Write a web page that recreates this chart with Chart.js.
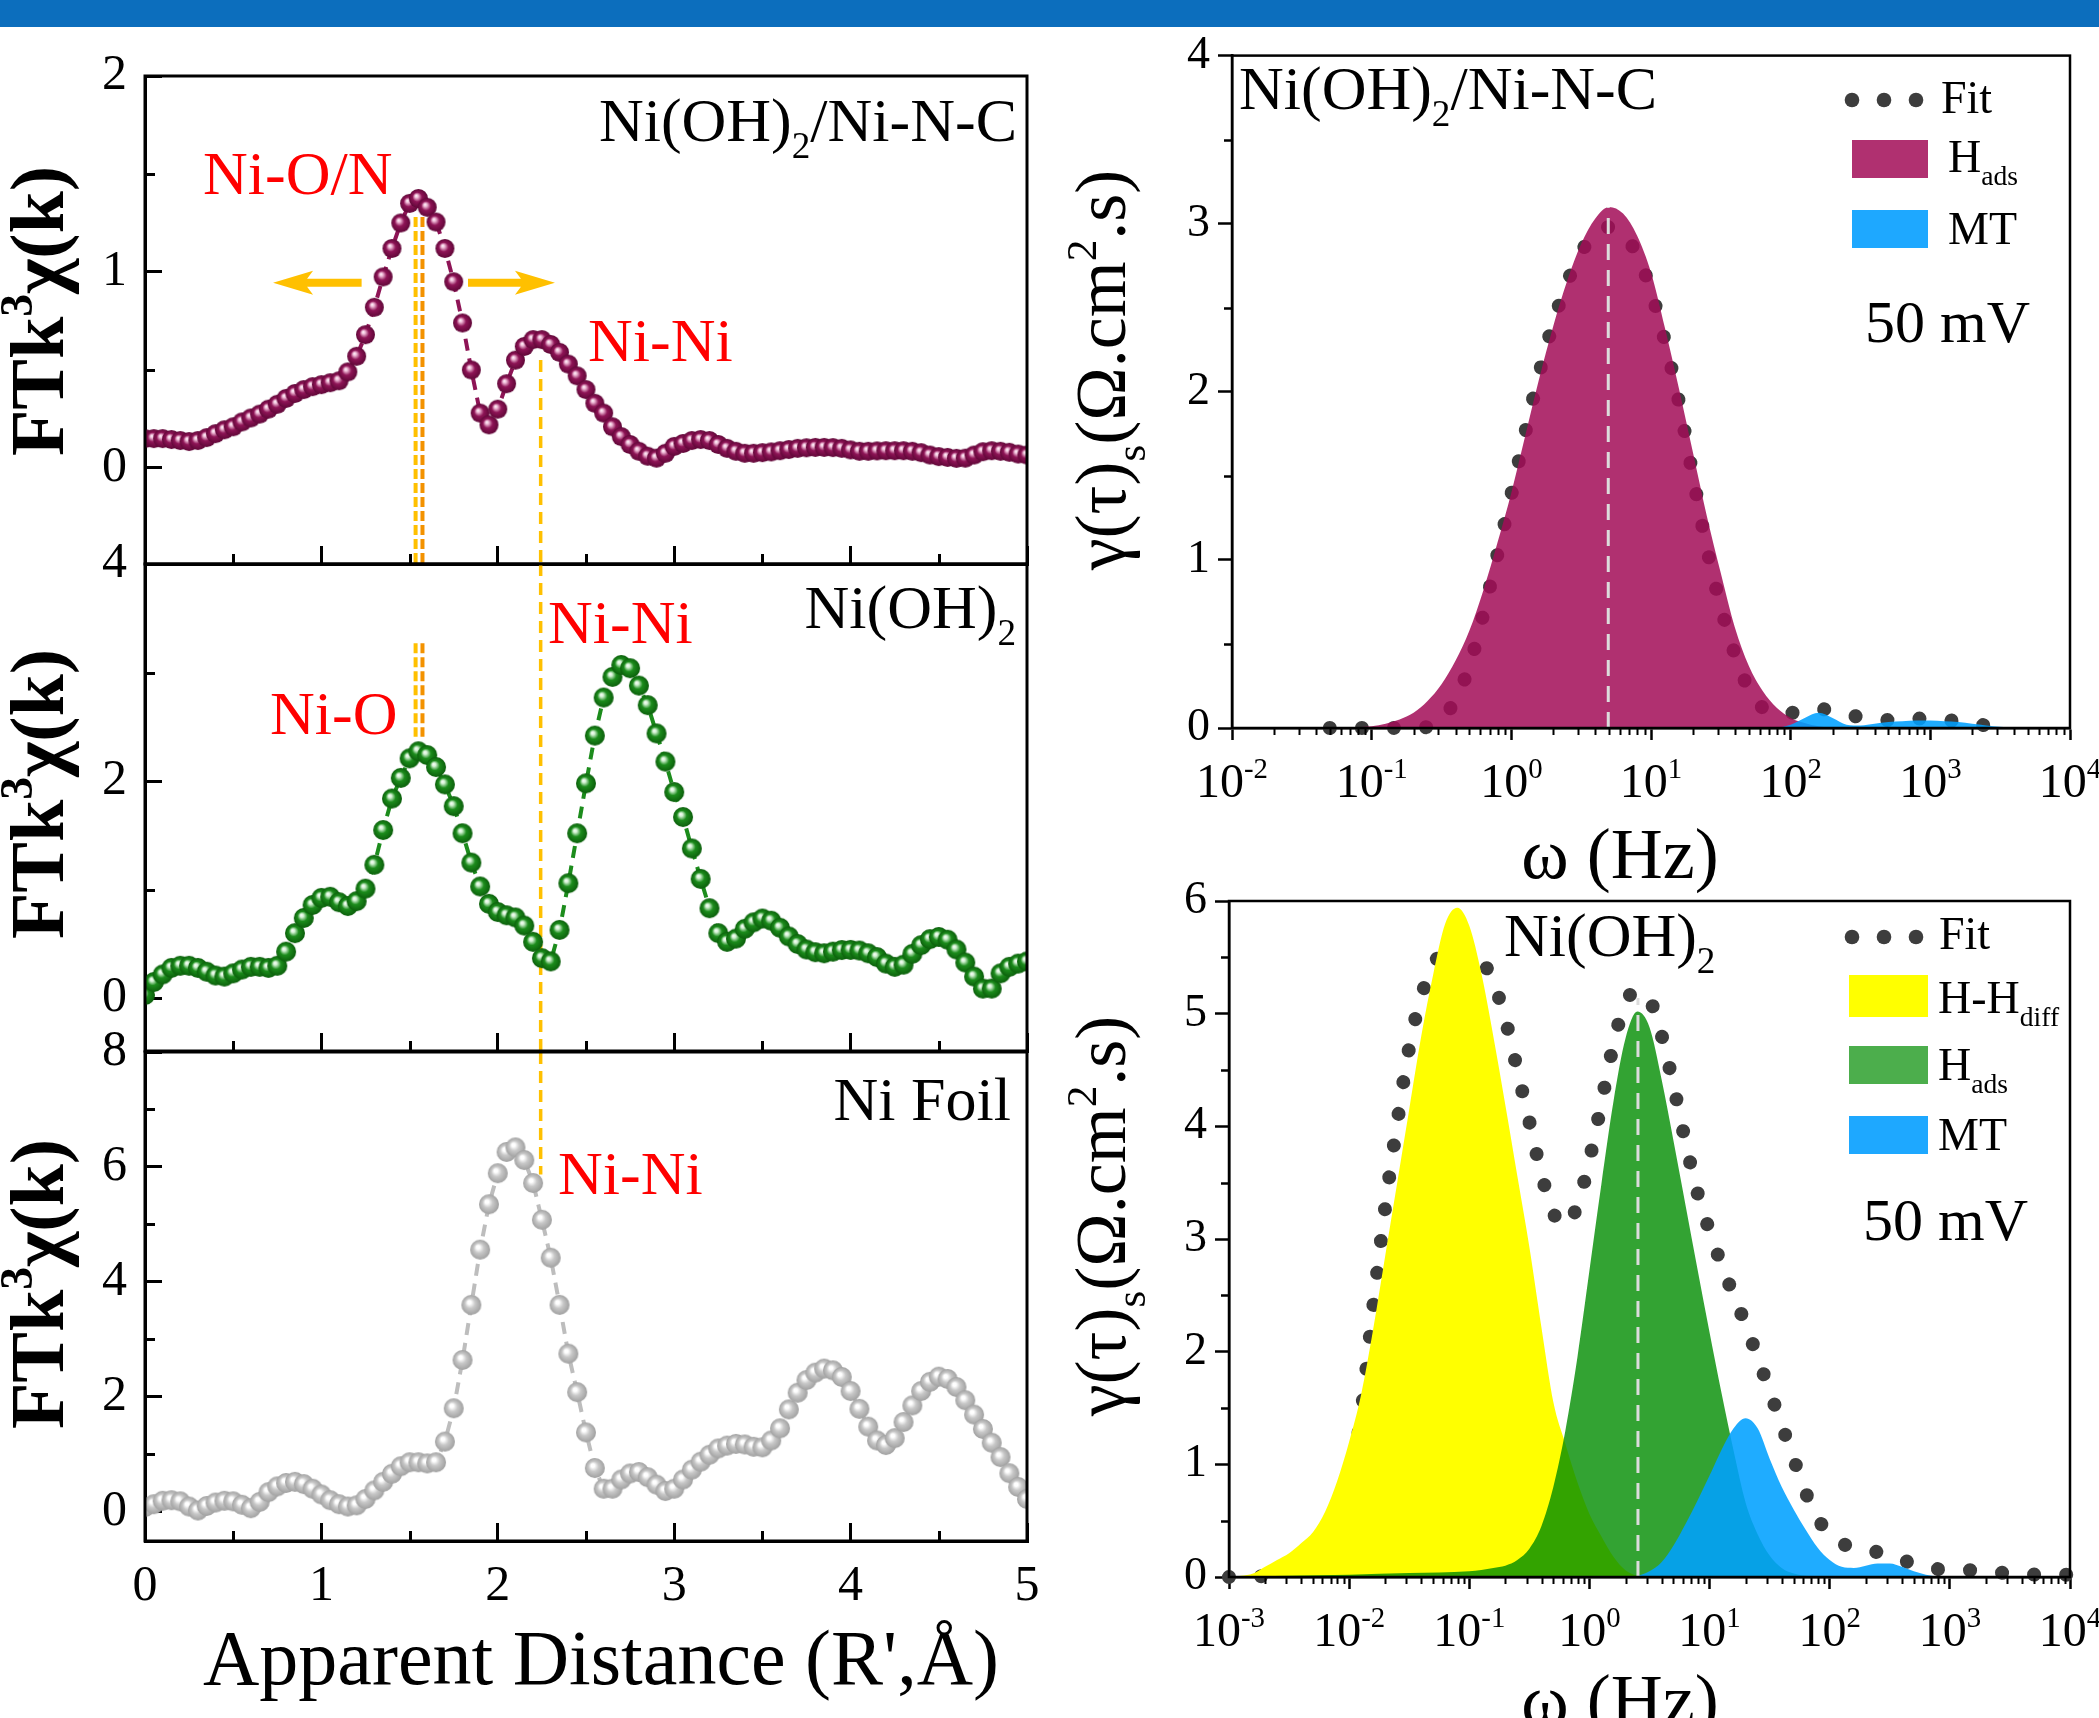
<!DOCTYPE html>
<html>
<head>
<meta charset="utf-8">
<title>FT-EXAFS and DRT</title>
<script src="https://cdn.jsdelivr.net/npm/chart.js@4.4.1/dist/chart.umd.min.js"></script>
<style>
  html, body { margin: 0; padding: 0; background: #fff; }
  #fig { position: relative; width: 2099px; height: 1718px; overflow: hidden; background: #fff; }
  #bar { position: absolute; left: 0; top: 0; width: 2099px; height: 27px; background: #0c6ebd; }
  canvas { position: absolute; }
</style>
</head>
<body>
<div id="fig"><div id="bar"></div></div>
<script>
// ---------- EXAFS data (R', Å) ----------
const rDist = [0,0.05,0.1,0.15,0.2,0.25,0.3,0.35,0.4,0.45,0.5,0.55,0.6,0.65,0.7,0.75,0.8,0.85,0.9,0.95,
  1,1.05,1.1,1.15,1.2,1.25,1.3,1.35,1.4,1.45,1.5,1.55,1.6,1.65,1.7,1.75,1.8,1.85,1.9,1.95,
  2,2.05,2.1,2.15,2.2,2.25,2.3,2.35,2.4,2.45,2.5,2.55,2.6,2.65,2.7,2.75,2.8,2.85,2.9,2.95,
  3,3.05,3.1,3.15,3.2,3.25,3.3,3.35,3.4,3.45,3.5,3.55,3.6,3.65,3.7,3.75,3.8,3.85,3.9,3.95,
  4,4.05,4.1,4.15,4.2,4.25,4.3,4.35,4.4,4.45,4.5,4.55,4.6,4.65,4.7,4.75,4.8,4.85,4.9,4.95,5];

const ftNiNC = [0.15,0.15,0.15,0.145,0.14,0.135,0.14,0.155,0.175,0.195,
  0.21,0.235,0.255,0.275,0.30,0.325,0.355,0.38,0.40,0.415,
  0.425,0.435,0.445,0.49,0.57,0.68,0.82,0.975,1.12,1.25,
  1.35,1.375,1.33,1.255,1.12,0.95,0.74,0.50,0.28,0.22,
  0.30,0.43,0.55,0.62,0.655,0.655,0.63,0.59,0.53,0.47,
  0.40,0.33,0.28,0.21,0.16,0.12,0.085,0.06,0.05,0.075,
  0.11,0.125,0.14,0.145,0.14,0.12,0.10,0.085,0.075,0.075,
  0.078,0.082,0.088,0.094,0.10,0.103,0.105,0.105,0.104,0.10,
  0.092,0.085,0.085,0.087,0.088,0.088,0.088,0.085,0.078,0.066,
  0.058,0.054,0.049,0.05,0.066,0.083,0.088,0.085,0.08,0.071,0.066];

const ftNiOH = [0.03,0.15,0.22,0.28,0.30,0.30,0.28,0.245,0.21,0.20,
  0.23,0.265,0.29,0.29,0.28,0.30,0.43,0.60,0.74,0.86,
  0.925,0.935,0.885,0.85,0.895,1.01,1.23,1.55,1.84,2.03,
  2.21,2.275,2.24,2.13,1.97,1.77,1.52,1.25,1.03,0.87,
  0.795,0.765,0.745,0.67,0.52,0.37,0.34,0.63,1.06,1.52,
  1.98,2.42,2.77,2.96,3.07,3.04,2.88,2.70,2.44,2.18,
  1.90,1.67,1.38,1.10,0.83,0.60,0.52,0.55,0.64,0.70,
  0.735,0.715,0.65,0.57,0.50,0.45,0.425,0.415,0.43,0.445,
  0.446,0.44,0.415,0.38,0.32,0.29,0.31,0.41,0.49,0.545,
  0.565,0.54,0.45,0.33,0.20,0.09,0.09,0.23,0.29,0.32,0.34];

const ftNiFoil = [0.08,0.13,0.19,0.20,0.18,0.09,0.02,0.10,0.16,0.19,
  0.18,0.12,0.06,0.17,0.34,0.44,0.50,0.52,0.48,0.40,
  0.30,0.20,0.13,0.09,0.11,0.22,0.37,0.52,0.66,0.79,
  0.86,0.86,0.84,0.86,1.22,1.80,2.64,3.60,4.56,5.35,
  5.89,6.26,6.34,6.12,5.72,5.08,4.42,3.60,2.75,2.08,
  1.38,0.76,0.40,0.40,0.56,0.665,0.69,0.60,0.47,0.36,
  0.40,0.56,0.73,0.87,0.99,1.10,1.15,1.18,1.17,1.13,
  1.12,1.24,1.45,1.78,2.07,2.29,2.42,2.49,2.46,2.345,
  2.10,1.79,1.48,1.24,1.16,1.28,1.56,1.85,2.10,2.26,
  2.35,2.31,2.17,1.94,1.69,1.44,1.20,0.95,0.67,0.43,0.22];

// ---------- DRT data, x given as log10(omega / Hz) ----------
const trHadsLogW = [-1.2,-1.1,-1.0,-0.9,-0.8,-0.7,-0.6,-0.5,-0.4,-0.3,-0.2,-0.1,0,0.1,0.2,0.3,0.4,0.5,0.6,0.7,
  0.8,0.9,1.0,1.1,1.2,1.3,1.4,1.5,1.6,1.7,1.8,1.9,2.0,2.1,2.2,2.3];
const trHads = [0,0.004,0.01,0.025,0.05,0.09,0.16,0.26,0.40,0.58,0.82,1.10,1.40,1.74,2.08,2.39,2.66,2.88,3.03,3.10,
  3.06,2.93,2.71,2.38,2.02,1.64,1.26,0.92,0.60,0.37,0.22,0.12,0.06,0.03,0.01,0];
const trMtLogW = [1.9,2.0,2.1,2.2,2.3,2.4,2.5,2.6,2.7,2.8,2.9,3.0,3.1,3.2,3.3,3.4,3.5,3.6,3.7];
const trMt = [0,0.02,0.06,0.09,0.06,0.02,0.015,0.025,0.035,0.04,0.045,0.045,0.04,0.035,0.025,0.015,0.008,0.002,0];
const trFitLogW = [-1.3,-1.0,-0.7,-0.6,-0.5,-0.4,-0.3,-0.2,-0.1,0,0.1,0.2,0.3,0.4,0.5,0.6,0.7,0.8,0.9,1.0,
  1.1,1.2,1.3,1.4,1.5,1.6,1.7,1.8,1.9,2.0,2.1,2.2,2.3,2.4,2.5,2.6,2.7,2.8,2.9,3.0,3.1,3.2,3.3,3.4,3.5,3.6];
const trFit = [0,0,0.002,0.006,0.05,0.17,0.37,0.68,1.03,1.39,1.76,2.11,2.41,2.65,2.83,2.94,2.98,2.93,2.82,2.60,
  2.30,1.94,1.50,1.07,0.72,0.44,0.23,0.12,0.09,0.09,0.10,0.115,0.10,0.08,0.065,0.052,0.047,0.05,0.056,0.055,
  0.048,0.04,0.028,0.015,0.006,0];

const brDiffLogW = [-3.0,-2.9,-2.8,-2.7,-2.6,-2.5,-2.4,-2.3,-2.2,-2.1,-2.0,-1.9,-1.8,-1.7,-1.6,-1.5,-1.4,-1.3,-1.2,-1.1,
  -1.0,-0.9,-0.8,-0.7,-0.6,-0.5,-0.4,-0.3,-0.2,-0.1,0,0.1,0.2,0.3,0.4,0.5];
const brDiff = [0,0.01,0.03,0.09,0.15,0.21,0.30,0.40,0.58,0.85,1.20,1.62,2.20,2.85,3.50,4.15,4.80,5.35,5.80,5.94,
  5.78,5.36,4.80,4.19,3.56,2.93,2.22,1.55,1.18,0.84,0.56,0.36,0.18,0.06,0.01,0];
const brAdsLogW = [-3.0,-2.5,-2.0,-1.5,-1.0,-0.8,-0.7,-0.6,-0.5,-0.4,-0.3,-0.2,-0.1,0,0.1,0.2,0.3,0.4,0.5,0.6,
  0.7,0.8,0.9,1.0,1.1,1.2,1.3,1.4,1.5,1.6,1.7,1.8,2.0];
const brAds = [0,0.01,0.02,0.035,0.05,0.08,0.10,0.15,0.25,0.45,0.80,1.30,1.95,2.72,3.49,4.22,4.78,5.02,4.88,4.42,
  3.87,3.30,2.73,2.17,1.63,1.12,0.66,0.38,0.19,0.08,0.03,0.01,0];
const brMtLogW = [0.3,0.4,0.5,0.6,0.7,0.8,0.9,1.0,1.1,1.2,1.3,1.4,1.5,1.6,1.7,1.8,1.9,2.0,2.1,2.2,
  2.3,2.4,2.5,2.6,2.7,2.8,2.9,3.0];
const brMt = [0,0.01,0.05,0.13,0.28,0.47,0.68,0.90,1.13,1.32,1.41,1.32,1.05,0.80,0.60,0.42,0.26,0.15,0.09,0.08,
  0.10,0.12,0.12,0.09,0.05,0.02,0.005,0];
const brFitLogW = [-3.0,-2.8,-2.7,-2.6,-2.5,-2.4,-2.3,-2.2,-2.1,-2.0,-1.9,-1.8,-1.7,-1.6,-1.5,-1.4,-1.3,-1.2,-1.1,-1.0,
  -0.9,-0.8,-0.7,-0.6,-0.5,-0.4,-0.3,-0.2,-0.1,0,0.1,0.2,0.3,0.4,0.5,0.6,0.7,0.8,0.9,1.0,
  1.1,1.2,1.3,1.4,1.5,1.6,1.7,1.8,1.9,2.0,2.1,2.2,2.3,2.4,2.5,2.6,2.7,2.8,2.9,3.0,3.2,3.4,3.6,3.8,4.0];
const brFit = [0,0.004,0.01,0.025,0.05,0.09,0.16,0.28,0.48,0.82,1.45,2.40,3.28,4.03,4.70,5.15,5.43,5.57,5.60,5.57,
  5.48,5.28,4.95,4.50,4.04,3.58,3.23,3.12,3.30,3.70,4.21,4.73,5.10,5.20,5.13,4.81,4.36,3.86,3.41,3.07,
  2.77,2.50,2.24,1.95,1.65,1.35,1.05,0.75,0.52,0.38,0.30,0.26,0.24,0.22,0.19,0.15,0.12,0.09,0.07,0.06,
  0.06,0.04,0.025,0.02,0.02];

// ---------- helpers ----------
const SERIF = '"Liberation Serif", "Times New Roman", Times, serif';
const MAROON = 'rgba(162,12,87,0.85)';
const BLUE = 'rgba(0,160,255,0.88)';
const GREEN = 'rgba(0,140,0,0.8)';
const YELLOW = '#ffff00';
const FITDOT = '#3d3d3d';

function sphere(d, hi, base, edge) {
  const c = document.createElement('canvas');
  c.width = d + 2; c.height = d + 2;
  const g = c.getContext('2d');
  const r = d / 2, cx = c.width / 2, cy = c.height / 2;
  const grad = g.createRadialGradient(cx - r * 0.25, cy - r * 0.3, 0, cx, cy, r);
  grad.addColorStop(0, '#ffffff');
  grad.addColorStop(0.18, hi);
  grad.addColorStop(0.5, base);
  grad.addColorStop(1, edge);
  g.fillStyle = grad;
  g.beginPath(); g.arc(cx, cy, r, 0, Math.PI * 2); g.fill();
  return c;
}

// parts: [text, ''|'sub'|'sup']
function rich(ctx, parts, x, y, size, align, weight, color) {
  const w = weight || 'normal';
  let total = 0;
  const widths = parts.map(([t, k]) => {
    ctx.font = `${w} ${k ? size * 0.6 : size}px ${SERIF}`;
    const m = ctx.measureText(t).width;
    total += m;
    return m;
  });
  let cx = align === 'center' ? x - total / 2 : align === 'right' ? x - total : x;
  ctx.fillStyle = color || '#000';
  ctx.textAlign = 'left';
  ctx.textBaseline = 'alphabetic';
  parts.forEach(([t, k], i) => {
    ctx.font = `${w} ${k ? size * 0.6 : size}px ${SERIF}`;
    const dy = k === 'sub' ? size * 0.28 : k === 'sup' ? -size * 0.4 : 0;
    ctx.fillText(t, cx, y + dy);
    cx += widths[i];
  });
}

function vTitle(ctx, parts, cx, cy, size, weight) {
  ctx.save();
  ctx.translate(cx, cy);
  ctx.rotate(-Math.PI / 2);
  rich(ctx, parts, 0, size * 0.3, size, 'center', weight);
  ctx.restore();
}

// len > 0 : into the plot, len < 0 : away from it
function ticksOn(ctx, scale, values, len, width) {
  ctx.save();
  ctx.strokeStyle = '#000';
  ctx.lineWidth = width;
  ctx.beginPath();
  values.forEach(v => {
    const p = Math.round(scale.getPixelForValue(v)) + 0.5;
    if (scale.isHorizontal()) { ctx.moveTo(p, scale.top); ctx.lineTo(p, scale.top - len); }
    else { ctx.moveTo(scale.right, p); ctx.lineTo(scale.right + len, p); }
  });
  ctx.stroke();
  ctx.restore();
}

function frame(ctx, chart, width) {
  const a = chart.chartArea;
  ctx.save();
  ctx.strokeStyle = '#000';
  ctx.lineWidth = width;
  ctx.strokeRect(a.left, a.top, a.right - a.left, a.bottom - a.top);
  ctx.restore();
}

function vline(ctx, chart, xv, v0, v1, color, width, dash) {
  const xs = chart.scales.x, ys = chart.scales.y;
  const px = xs.getPixelForValue(xv);
  ctx.save();
  ctx.strokeStyle = color; ctx.lineWidth = width; ctx.setLineDash(dash);
  ctx.beginPath();
  ctx.moveTo(px, ys.getPixelForValue(v0));
  ctx.lineTo(px, ys.getPixelForValue(v1));
  ctx.stroke();
  ctx.restore();
}

function arrow(ctx, chart, r0, r1, v, color) {
  const xs = chart.scales.x, ys = chart.scales.y;
  const x0 = xs.getPixelForValue(r0), x1 = xs.getPixelForValue(r1), y = ys.getPixelForValue(v);
  const dir = Math.sign(x1 - x0), head = 34, hw = 12, sw = 4;
  ctx.save();
  ctx.fillStyle = color;
  ctx.beginPath();
  ctx.moveTo(x0, y - sw);
  ctx.lineTo(x1 - dir * head, y - sw);
  ctx.lineTo(x1 - dir * (head + 6), y - hw);
  ctx.lineTo(x1, y);
  ctx.lineTo(x1 - dir * (head + 6), y + hw);
  ctx.lineTo(x1 - dir * head, y + sw);
  ctx.lineTo(x0, y + sw);
  ctx.closePath();
  ctx.fill();
  ctx.restore();
}

// box: canvas placement on the page, area: wanted plot area on the page.
// The margins must exceed the tick-label paddings Chart.js reserves.
function panel(box, area, datasets, scales, hooks) {
  const cv = document.createElement('canvas');
  cv.width = box.w; cv.height = box.h;
  cv.style.left = box.x + 'px';
  cv.style.top = box.y + 'px';
  document.getElementById('fig').appendChild(cv);
  scales.x.afterFit = s => { s.height = box.y + box.h - area.b; };
  scales.y.afterFit = s => { s.width = area.l - box.x; };
  const plugin = {
    id: 'deco',
    beforeDatasetsDraw(chart) { if (hooks.under) hooks.under(chart, chart.ctx); },
    afterDatasetsDraw(chart) { if (hooks.over) hooks.over(chart, chart.ctx); },
    afterDraw(chart) {
      const ctx = chart.ctx;
      if (hooks.axes) hooks.axes(chart, ctx);
      ctx.save();
      ctx.translate(-box.x, -box.y);   // page coordinates for text
      if (hooks.text) hooks.text(chart, ctx);
      ctx.restore();
    }
  };
  return new Chart(cv, {
    type: 'line',
    data: { datasets },
    options: {
      responsive: false,
      animation: false,
      devicePixelRatio: 1,
      layout: { padding: { left: 0, right: box.x + box.w - area.r, top: area.t - box.y, bottom: 0 } },
      plugins: { legend: { display: false }, tooltip: { enabled: false } },
      scales
    },
    plugins: [plugin]
  });
}

// ---------- left column: FT-EXAFS ----------
function leftScales(ymin, ymax, step, showX) {
  return {
    x: {
      type: 'linear', min: 0, max: 5,
      ticks: { display: showX, stepSize: 1, font: { family: SERIF, size: 50 }, color: '#000', padding: 34, maxRotation: 0 },
      grid: { drawOnChartArea: false, tickLength: -18, tickWidth: 3, tickColor: '#000' },
      border: { width: 3, color: '#000' }
    },
    y: {
      type: 'linear', min: ymin, max: ymax,
      ticks: { stepSize: step, includeBounds: false, font: { family: SERIF, size: 50 }, color: '#000', padding: 35 },
      grid: { drawOnChartArea: false, tickLength: -17, tickWidth: 3, tickColor: '#000' },
      border: { width: 3, color: '#000' }
    }
  };
}

function ftSet(vals, img, color) {
  return {
    data: rDist.map((r, i) => ({ x: r, y: vals[i] })),
    borderColor: color, borderWidth: 4, borderDash: [12, 8],
    pointStyle: img, pointRadius: 10, pointHoverRadius: 10,
    tension: 0, fill: false
  };
}

const ftTitle = [['FTk', ''], ['3', 'sup'], ['\u03c7(k)', '']];
const leftMinorX = [0.5, 1.5, 2.5, 3.5, 4.5];
const YEL = '#ffc000', ORG = '#f39200';

// Ni(OH)2/Ni-N-C
panel({ x: 0, y: 0, w: 1060, h: 640 }, { l: 145, t: 76, r: 1027, b: 564 },
  [ftSet(ftNiNC, sphere(19, '#f0bcd8', '#8e1456', '#600738'), '#8e1456')],
  leftScales(-0.49, 2, 1, false),
  {
    under(chart, ctx) {
      const lo = chart.scales.y.min;
      vline(ctx, chart, 1.534, 1.28, lo, YEL, 4, [10, 4]);
      vline(ctx, chart, 1.573, 1.28, lo, ORG, 4, [10, 4]);
      vline(ctx, chart, 2.243, 0.551, lo, YEL, 3.5, [12, 7]);
    },
    axes(chart, ctx) {
      frame(ctx, chart, 3);
      ticksOn(ctx, chart.scales.x, leftMinorX, 10, 3);
      ticksOn(ctx, chart.scales.y, [0.5, 1.5], 10, 3);
      arrow(ctx, chart, 1.228, 0.726, 0.945, YEL);
      arrow(ctx, chart, 1.831, 2.324, 0.945, YEL);
    },
    text(chart, ctx) {
      rich(ctx, [['Ni(OH)', ''], ['2', 'sub'], ['/Ni-N-C', '']], 1017, 141, 62, 'right');
      rich(ctx, [['Ni-O/N', '']], 203, 194, 62, 'left', 'normal', '#ff0000');
      rich(ctx, [['Ni-Ni', '']], 588, 361, 62, 'left', 'normal', '#ff0000');
      vTitle(ctx, ftTitle, 40, 311, 76, 'bold');
    }
  });

// Ni(OH)2
panel({ x: 0, y: 480, w: 1060, h: 645 }, { l: 145, t: 564, r: 1027, b: 1051 },
  [ftSet(ftNiOH, sphere(20, '#d4f2d4', '#1c8c1c', '#0b5e0b'), '#1c8c1c')],
  leftScales(-0.485, 4, 2, false),
  {
    under(chart, ctx) {
      const ys = chart.scales.y;
      vline(ctx, chart, 1.534, 3.27, 2.41, YEL, 4, [10, 4]);
      vline(ctx, chart, 1.573, 3.27, 2.41, ORG, 4, [10, 4]);
      vline(ctx, chart, 2.243, ys.max, ys.min, YEL, 3.5, [12, 7]);
    },
    axes(chart, ctx) {
      frame(ctx, chart, 3);
      ticksOn(ctx, chart.scales.x, leftMinorX, 10, 3);
      ticksOn(ctx, chart.scales.y, [1, 3], 10, 3);
    },
    text(chart, ctx) {
      rich(ctx, [['Ni(OH)', ''], ['2', 'sub']], 1016, 628, 62, 'right');
      rich(ctx, [['Ni-Ni', '']], 548, 643, 62, 'left', 'normal', '#ff0000');
      rich(ctx, [['Ni-O', '']], 270, 734, 62, 'left', 'normal', '#ff0000');
      vTitle(ctx, ftTitle, 40, 794, 76, 'bold');
    }
  });

// Ni foil (wider canvas: the last x label reserves extra room on the right)
panel({ x: 0, y: 970, w: 1090, h: 748 }, { l: 145, t: 1052, r: 1027, b: 1541 },
  [ftSet(ftNiFoil, sphere(20, '#ffffff', '#c8c8c8', '#a0a0a0'), '#bdbdbd')],
  leftScales(-0.51, 8, 2, true),
  {
    under(chart, ctx) {
      vline(ctx, chart, 2.243, chart.scales.y.max, 5.87, YEL, 3.5, [12, 7]);
    },
    axes(chart, ctx) {
      frame(ctx, chart, 3);
      ticksOn(ctx, chart.scales.x, leftMinorX, 10, 3);
      ticksOn(ctx, chart.scales.y, [1, 3, 5, 7], 10, 3);
    },
    text(chart, ctx) {
      rich(ctx, [['Ni Foil', '']], 1011, 1120, 62, 'right');
      rich(ctx, [['Ni-Ni', '']], 558, 1194, 62, 'left', 'normal', '#ff0000');
      vTitle(ctx, ftTitle, 40, 1284, 76, 'bold');
      rich(ctx, [["Apparent Distance (R',\u00c5)", '']], 601, 1684, 78, 'center');
    }
  });

// ---------- right column: DRT ----------
const isDecade = v => Math.abs(Math.log10(v) - Math.round(Math.log10(v))) < 1e-6;

function rightScales(xmin, ymax) {
  return {
    x: {
      type: 'logarithmic', min: xmin, max: 1e4,
      afterBuildTicks: s => { s.ticks = s.ticks.filter(t => isDecade(t.value)); },
      ticks: { display: false },
      grid: { drawOnChartArea: false, tickLength: 12, tickWidth: 2.5, tickColor: '#000' },
      border: { width: 2.5, color: '#000' }
    },
    y: {
      type: 'linear', min: 0, max: ymax,
      ticks: { stepSize: 1, font: { family: SERIF, size: 46 }, color: '#000', padding: 8 },
      grid: { drawOnChartArea: false, tickLength: 14, tickWidth: 2.5, tickColor: '#000' },
      border: { width: 2.5, color: '#000' }
    }
  };
}

const toXY = (lw, vals) => lw.map((l, i) => ({ x: Math.pow(10, l), y: vals[i] }));

function areaSet(lw, vals, color, order) {
  return {
    data: toXY(lw, vals), borderColor: 'rgba(0,0,0,0)', borderWidth: 1,
    backgroundColor: color, fill: 'origin', pointRadius: 0,
    cubicInterpolationMode: 'monotone', order
  };
}

function fitSet(lw, vals) {
  return {
    data: toXY(lw, vals), borderColor: FITDOT, borderWidth: 14,
    borderDash: [0.1, 32], borderCapStyle: 'round', pointRadius: 0, fill: false,
    cubicInterpolationMode: 'monotone', clip: false, order: 9
  };
}

function minorLog(n0, n1) {
  const out = [];
  for (let n = n0; n < n1; n++) for (let k = 2; k <= 9; k++) out.push(k * Math.pow(10, n));
  return out;
}

function logLabels(ctx, xs, n0, n1, baseY) {
  for (let n = n0; n <= n1; n++) {
    const px = xs.getPixelForValue(Math.pow(10, n));
    rich(ctx, [['10', ''], [String(n), 'sup']], px, baseY, 48, 'center');
  }
}

function fitKey(ctx, y) {
  ctx.save();
  ctx.fillStyle = FITDOT;
  [1852, 1884, 1916].forEach(x => { ctx.beginPath(); ctx.arc(x, y, 7.3, 0, Math.PI * 2); ctx.fill(); });
  ctx.restore();
}

function patch(ctx, x, y, w, h, color) {
  ctx.save();
  ctx.fillStyle = color;
  ctx.fillRect(x, y, w, h);
  ctx.restore();
}

const drtTitle = [['\u03b3(\u03c4)', ''], ['s', 'sub'], ['(\u03a9.cm', ''], ['2', 'sup'], ['.s)', '']];
const wTitle = [['\u03c9 (Hz)', '']];

// Ni(OH)2/Ni-N-C DRT
const trBox = { x: 1060, y: 20, w: 1039, h: 907 };
panel(trBox, { l: 1232, t: 53, r: 2070, b: 728 },
  [fitSet(trFitLogW, trFit), areaSet(trHadsLogW, trHads, MAROON, 2), areaSet(trMtLogW, trMt, BLUE, 1)],
  rightScales(0.01, 4),
  {
    over(chart, ctx) {
      vline(ctx, chart, Math.pow(10, 0.694), 0, 3.1, '#dcdcdc', 3, [16, 10]);
    },
    axes(chart, ctx) {
      frame(ctx, chart, 2.5);
      ticksOn(ctx, chart.scales.y, [0.5, 1.5, 2.5, 3.5], -8, 2.5);
      ticksOn(ctx, chart.scales.x, minorLog(-2, 4), -7, 2);
    },
    text(chart, ctx) {
      logLabels(ctx, { getPixelForValue: v => chart.scales.x.getPixelForValue(v) + trBox.x }, -2, 4, 797);
      vTitle(ctx, drtTitle, 1103, 370, 72);
      rich(ctx, wTitle, 1620, 878, 72, 'center');
      rich(ctx, [['Ni(OH)', ''], ['2', 'sub'], ['/Ni-N-C', '']], 1239, 109, 62, 'left');
      fitKey(ctx, 100);
      rich(ctx, [['Fit', '']], 1941, 113, 46, 'left');
      patch(ctx, 1852, 140, 76, 38, 'rgb(176,48,112)');
      rich(ctx, [['H', ''], ['ads', 'sub']], 1948, 172, 46, 'left');
      patch(ctx, 1852, 210, 76, 38, '#1ea8ff');
      rich(ctx, [['MT', '']], 1948, 244, 46, 'left');
      rich(ctx, [['50 mV', '']], 1865, 342, 60, 'left');
    }
  });

// Ni(OH)2 DRT
const brBox = { x: 1060, y: 860, w: 1039, h: 858 };
panel(brBox, { l: 1229, t: 901, r: 2070, b: 1577 },
  [fitSet(brFitLogW, brFit), areaSet(brDiffLogW, brDiff, YELLOW, 3),
   areaSet(brAdsLogW, brAds, GREEN, 2), areaSet(brMtLogW, brMt, BLUE, 1)],
  rightScales(0.001, 6),
  {
    over(chart, ctx) {
      vline(ctx, chart, Math.pow(10, 0.404), 0, 5.14, '#dcdcdc', 3, [16, 10]);
    },
    axes(chart, ctx) {
      frame(ctx, chart, 2.5);
      ticksOn(ctx, chart.scales.y, [0.5, 1.5, 2.5, 3.5, 4.5, 5.5], -8, 2.5);
      ticksOn(ctx, chart.scales.x, minorLog(-3, 4), -7, 2);
    },
    text(chart, ctx) {
      logLabels(ctx, { getPixelForValue: v => chart.scales.x.getPixelForValue(v) + brBox.x }, -3, 4, 1646);
      vTitle(ctx, drtTitle, 1103, 1216, 72);
      rich(ctx, wTitle, 1620, 1724, 72, 'center');
      rich(ctx, [['Ni(OH)', ''], ['2', 'sub']], 1504, 956, 62, 'left');
      fitKey(ctx, 937);
      rich(ctx, [['Fit', '']], 1939, 949, 46, 'left');
      patch(ctx, 1849, 975, 79, 42, YELLOW);
      rich(ctx, [['H-H', ''], ['diff', 'sub']], 1938, 1013, 46, 'left');
      patch(ctx, 1849, 1046, 79, 38, 'rgba(0,140,0,0.7)');
      rich(ctx, [['H', ''], ['ads', 'sub']], 1938, 1080, 46, 'left');
      patch(ctx, 1849, 1116, 79, 38, '#1ea8ff');
      rich(ctx, [['MT', '']], 1938, 1150, 46, 'left');
      rich(ctx, [['50 mV', '']], 1863, 1240, 60, 'left');
    }
  });
</script>
</body>
</html>
